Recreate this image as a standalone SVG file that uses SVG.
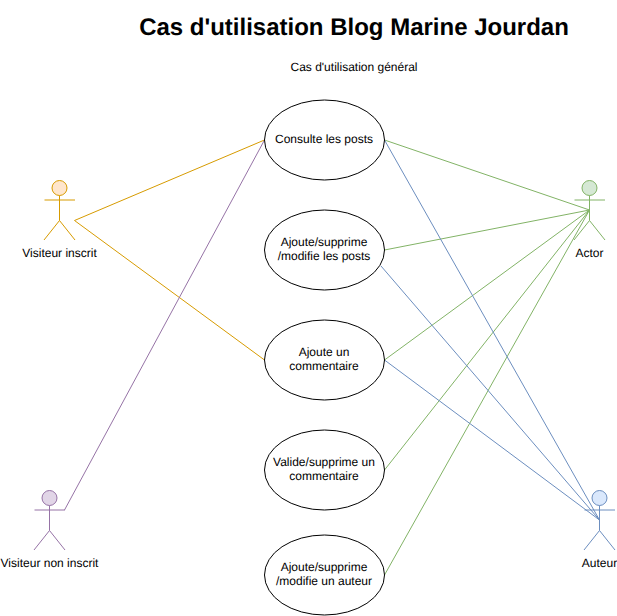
<svg xmlns="http://www.w3.org/2000/svg" width="617" height="616" viewBox="0 0 617 616">
<defs>
<style>
text{font-family:"Liberation Sans",Arial,Helvetica,sans-serif;font-size:12px;fill:#000;text-anchor:middle;text-rendering:geometricPrecision}
.title{font-size:24px;font-weight:bold}
.uc ellipse{fill:#fff;stroke:#000;stroke-width:1}
.line{fill:none;stroke-width:1}
.or{stroke:#d79b00}.gr{stroke:#82b366}.bl{stroke:#6c8ebf}.pu{stroke:#9673a6}
</style>
<g id="stick"><path d="M0 7.500V32.500M-15 12H15.500M0 32.500L-15.500 52M0 32.500L15.500 52" fill="none"/></g>
</defs>
<rect width="617" height="616" fill="#fff"/>
<g id="title"><text class="title" x="354" y="35">Cas d'utilisation Blog Marine Jourdan</text><text x="354" y="71">Cas d'utilisation général</text></g>
<g id="connectors" class="line">
<path class="or" d="M264.500 140L74.500 220.500L264.500 360" fill="none"/>
<path class="pu" d="M264.500 140L64.500 510" fill="none"/>
<path class="gr" d="M384.500 140L589.500 210M384.500 250L589.500 210M384.500 360L589.500 210M384.500 470L589.500 210M384.500 575L589.500 210" fill="none"/>
<path class="bl" d="M384.500 140L599.500 520M381 266L599.500 520M384.500 360L599.500 520" fill="none"/>
</g>
<g id="uc1" class="uc"><ellipse cx="324.500" cy="140" rx="60" ry="40"/><text x="324" y="143">Consulte les posts</text></g>
<g id="uc2" class="uc"><ellipse cx="324.500" cy="250" rx="60" ry="40"/><text x="324" y="246">Ajoute/supprime</text><text x="324" y="260">/modifie les posts</text></g>
<g id="uc3" class="uc"><ellipse cx="324.500" cy="360" rx="60" ry="40"/><text x="324" y="356">Ajoute un</text><text x="324" y="370">commentaire</text></g>
<g id="uc4" class="uc"><ellipse cx="324.500" cy="470" rx="60" ry="40"/><text x="324" y="466">Valide/supprime un</text><text x="324" y="480">commentaire</text></g>
<g id="uc5" class="uc"><ellipse cx="324.500" cy="575" rx="60" ry="40"/><text x="324" y="571">Ajoute/supprime</text><text x="324" y="585">/modifie un auteur</text></g>
<g id="actor-inscrit"><g transform="translate(59.500 188)" stroke="#d79b00"><circle r="7.500" fill="#ffe6cc"/><use href="#stick"/></g><text x="59.500" y="257">Visiteur inscrit</text></g>
<g id="actor-noninscrit"><g transform="translate(49.500 498)" stroke="#9673a6"><circle r="7.500" fill="#e1d5e7"/><use href="#stick"/></g><text x="49.500" y="567">Visiteur non inscrit</text></g>
<g id="actor-actor"><g transform="translate(589.500 188)" stroke="#82b366"><circle r="7.500" fill="#d5e8d4"/><use href="#stick"/></g><text x="589.500" y="257">Actor</text></g>
<g id="actor-auteur"><g transform="translate(599.500 498)" stroke="#6c8ebf"><circle r="7.500" fill="#dae8fc"/><use href="#stick"/></g><text x="599.500" y="567">Auteur</text></g>
</svg>
